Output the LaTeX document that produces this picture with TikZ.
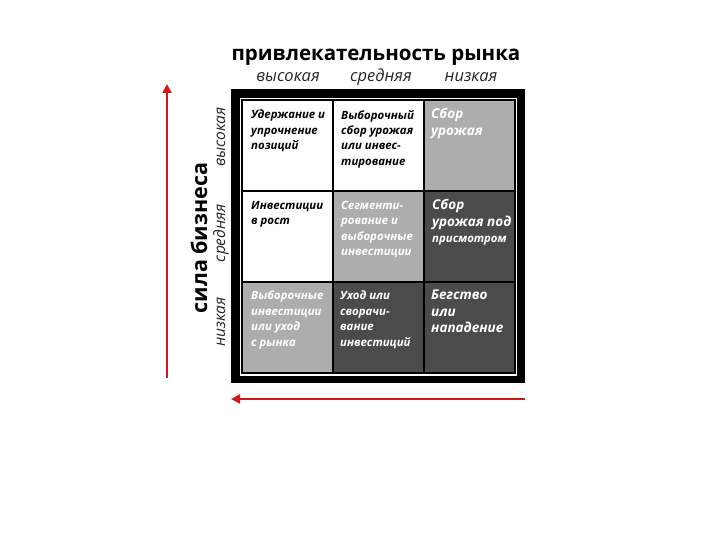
\documentclass[tikz,border=0pt]{standalone}
\usepackage{fontspec}
\setmainfont{Open Sans}
\usetikzlibrary{arrows.meta}
\definecolor{lg}{HTML}{ADADAD}
\definecolor{dg}{HTML}{4B4B4B}
\definecolor{rd}{HTML}{D01818}
\begin{document}
\begin{tikzpicture}[x=1pt,y=-1pt,
  cell/.style={draw=black,line width=1.6pt,minimum width=91pt,minimum height=91pt,anchor=north west,inner sep=0pt,outer sep=0pt},
  ctext/.style={anchor=north west,align=left,inner sep=0pt,font=\fontsize{11.4}{15.4}\selectfont\bfseries\itshape},
  btext/.style={anchor=north west,align=left,inner sep=0pt,font=\fontsize{13.5}{16.5}\selectfont\bfseries\itshape},
  sub/.style={font=\fontsize{16.5}{18}\selectfont\itshape,text=black!85,inner sep=0pt},
  vsub/.style={sub,rotate=90,font=\fontsize{15.5}{18}\selectfont\itshape},
  big/.style={font=\fontsize{20.5}{24}\selectfont\bfseries,inner sep=0pt},
  redarrow/.style={draw=rd,line width=2.6pt,-{Triangle[width=9pt,length=9pt]}}]
\useasboundingbox (0,0) rectangle (720,540);
% frame
\fill[black] (231,89) rectangle (525,383);
\fill[white] (240,98) rectangle (517,376);
% cells
\node[cell,fill=white] (c11) at (242,100) {};
\node[cell,fill=white] (c12) at (333,100) {};
\node[cell,fill=lg]    (c13) at (424,100) {};
\node[cell,fill=white] (c21) at (242,191) {};
\node[cell,fill=lg]    (c22) at (333,191) {};
\node[cell,fill=dg]    (c23) at (424,191) {};
\node[cell,fill=lg]    (c31) at (242,282) {};
\node[cell,fill=dg]    (c32) at (333,282) {};
\node[cell,fill=dg]    (c33) at (424,282) {};
% texts
\node[ctext,text=black] (t11) at ([shift={(9,10)}]c11.north west) {Удержание и\\упрочнение\\позиций};
\node[ctext,text=black] (t12) at ([shift={(8,10)}]c12.north west) {Выборочный\\сбор урожая\\или инвес-\\тирование};
\node[btext,text=white] (t13) at ([shift={(7,8)}]c13.north west) {Сбор\\урожая};
\node[ctext,text=black] (t21) at ([shift={(9,10)}]c21.north west) {Инвестиции\\в рост};
\node[ctext,text=white] (t22) at ([shift={(8,10)}]c22.north west) {Сегменти-\\рование и\\выборочные\\инвестиции};
\node[btext,text=white] (t23) at ([shift={(8,8)}]c23.north west) {Сбор\\урожая под\\{\fontsize{11.4}{15}\selectfont присмотром}};
\node[ctext,text=white] (t31) at ([shift={(9,9)}]c31.north west) {Выборочные\\инвестиции\\или уход\\с рынка};
\node[ctext,text=white] (t32) at ([shift={(7,9)}]c32.north west) {Уход или\\сворачи-\\вание\\инвестиций};
\node[btext,text=white] (t33) at ([shift={(7,8)}]c33.north west) {Бегство\\или\\нападение};
% headings
\node[big] (title) at (376,57) {привлекательность рынка};
\node[sub] (h1) at (288,77) {высокая};
\node[sub] (h2) at (381,77) {средняя};
\node[sub] (h3) at (471,77) {низкая};
\node[big,rotate=90,font=\fontsize{21.5}{25}\selectfont\bfseries] (vt) at (199,238) {сила бизнеса};
\node[vsub] (v1) at (221,137) {высокая};
\node[vsub] (v2) at (221,233) {средняя};
\node[vsub] (v3) at (221,322) {низкая};
% arrows
\coordinate (a1s) at (167,378);
\coordinate (a1e) at (167,84);
\coordinate (a2s) at (525,399);
\coordinate (a2e) at (231,399);
\draw[redarrow] (a1s) -- (a1e);
\draw[redarrow] (a2s) -- (a2e);
\end{tikzpicture}
\end{document}
